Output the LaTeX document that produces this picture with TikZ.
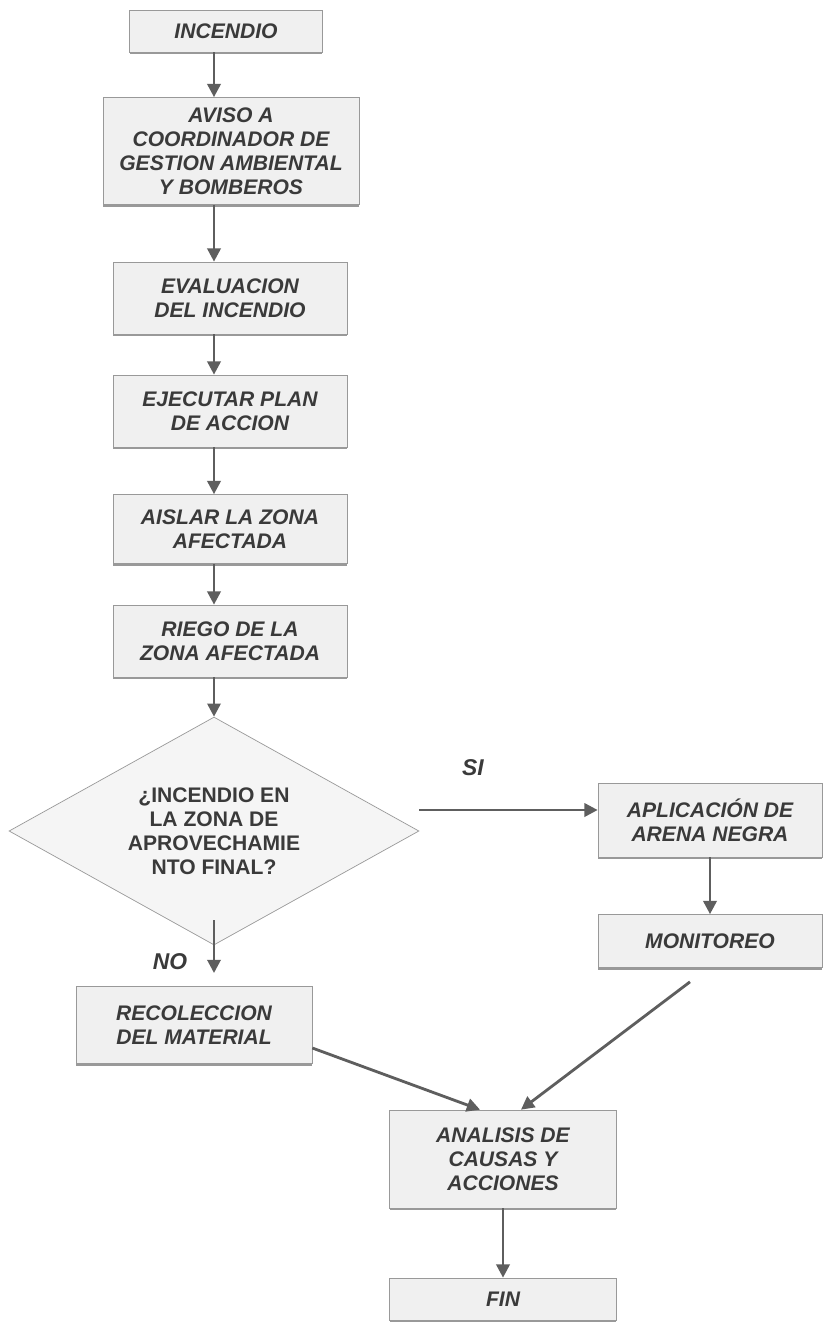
\documentclass[tikz,border=0pt]{standalone}
\usepackage{fontspec}
\setmainfont{Liberation Sans}
\usetikzlibrary{arrows.meta,shapes.geometric,shadows}
\definecolor{ink}{HTML}{3A3A3A}
\definecolor{wire}{HTML}{5E5E5E}
\begin{document}
\begin{tikzpicture}[x=0.02cm,y=-0.02cm,
    box/.style={draw=gray!80,fill=gray!12,text=ink,align=center,inner sep=2pt,
      font=\fontsize{12}{13.7}\selectfont\bfseries\itshape,
      drop shadow={shadow xshift=0pt,shadow yshift=-1.3pt,fill=gray!80,opacity=1}},
    decision/.style={diamond,aspect=1.8,draw=gray!80,fill=gray!8,text=ink,align=center,inner sep=0pt,
      font=\fontsize{12}{13.7}\selectfont\bfseries,minimum width=8.2cm,minimum height=4.56cm},
    answer/.style={text=ink,font=\fontsize{13}{15}\selectfont\bfseries\itshape},
    flow/.style={draw=wire,line width=1.6pt,-{Triangle[width=7.5pt,length=7.5pt]}}]
  \fill[white] (0,0) rectangle (827,1323);
  \useasboundingbox (0,0) rectangle (827,1323);
  % main column
  \node[box,minimum width=3.86cm,minimum height=0.84cm] (fire) at (226,31) {INCENDIO};
  \node[box,minimum width=5.12cm,minimum height=2.14cm] (notify) at (231,151)
    {AVISO A\\COORDINADOR DE\\GESTION AMBIENTAL\\Y BOMBEROS};
  \node[box,minimum width=4.68cm,minimum height=1.44cm] (assess) at (230,298) {EVALUACION\\DEL INCENDIO};
  \node[box,minimum width=4.68cm,minimum height=1.44cm] (plan) at (230,411) {EJECUTAR PLAN\\DE ACCION};
  \node[box,minimum width=4.68cm,minimum height=1.38cm] (isolate) at (230,529) {AISLAR LA ZONA\\AFECTADA};
  \node[box,minimum width=4.68cm,minimum height=1.44cm] (water) at (230,641) {RIEGO DE LA\\ZONA AFECTADA};
  \node[decision] (zone) at (214,831) {¿INCENDIO EN\\LA ZONA DE\\APROVECHAMIE\\NTO FINAL?};
  % branches
  \node[box,minimum width=4.48cm,minimum height=1.48cm] (sand) at (710,820) {APLICACIÓN DE\\ARENA NEGRA};
  \node[box,minimum width=4.48cm,minimum height=1.06cm] (watch) at (710,941) {MONITOREO};
  \node[box,minimum width=4.72cm,minimum height=1.54cm] (collect) at (194,1025) {RECOLECCION\\DEL MATERIAL};
  \node[box,minimum width=4.54cm,minimum height=1.96cm] (causes) at (503,1159) {ANALISIS DE\\CAUSAS Y\\ACCIONES};
  \node[box,minimum width=4.54cm,minimum height=0.84cm] (done) at (503,1299) {FIN};
  \node[answer] (yes) at (473,768) {SI};
  \node[answer] (no) at (170,962) {NO};
  \coordinate (noend) at (214,973);
  % connectors
  \draw[flow] (fire.south -| zone) -- (notify.north -| zone);
  \draw[flow] (notify.south -| zone) -- (assess.north -| zone);
  \draw[flow] (assess.south -| zone) -- (plan.north -| zone);
  \draw[flow] (plan.south -| zone) -- (isolate.north -| zone);
  \draw[flow] (isolate.south -| zone) -- (water.north -| zone);
  \draw[flow] (water.south -| zone) -- (zone.north);
  \draw[flow] ([yshift=0.2cm]zone.east |- sand.west) -- ([yshift=0.2cm]sand.west);
  \draw[flow] (sand) -- (watch);
  \draw[flow] ([yshift=0.5cm]zone.south) -- (noend);
  \draw[flow] ([yshift=-0.46cm]collect.east) -- ([xshift=-0.46cm]causes.north);
  \draw[flow] ([xshift=-0.4cm,yshift=-0.28cm]watch.south) -- ([xshift=0.36cm]causes.north);
  \draw[flow] (causes) -- (done);
\end{tikzpicture}
\end{document}
